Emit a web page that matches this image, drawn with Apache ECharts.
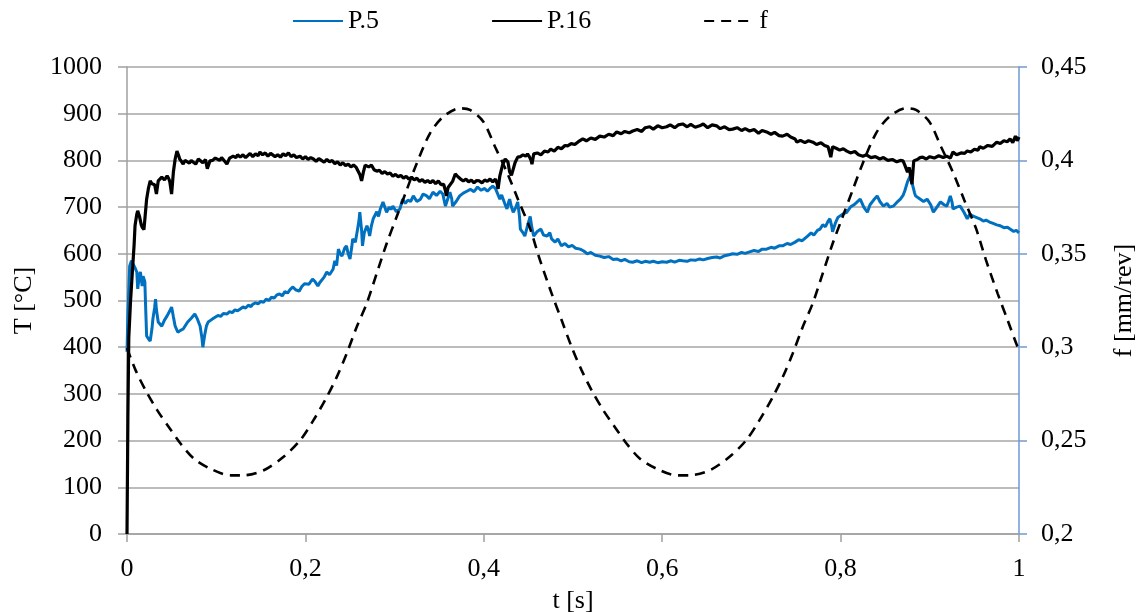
<!DOCTYPE html>
<html>
<head>
<meta charset="utf-8">
<script src="https://cdn.jsdelivr.net/npm/echarts@6/dist/echarts.min.js"></script>
<style>
html,body{margin:0;padding:0;background:#fff;overflow:hidden;}
#chart{width:1137px;height:612px;}
</style>
</head>
<body>
<div id="chart"></div>
<script>
// ---- data ----
const xTicks = [0, 0.2, 0.4, 0.6, 0.8, 1];
const seriesNames = ['P.5', 'P.16', 'f'];

const tP5 = [0,0.001,0.003,0.005,0.007,0.009,0.011,0.012,0.014,0.015,0.017,0.018,0.019,0.020,0.021,0.022,0.024,0.026,0.028,0.029,0.031,0.032,0.033,0.035,0.037,0.039,0.042,0.045,0.048,0.050,0.052,0.054,0.057,0.060,0.063,0.066,0.068,0.072,0.076,0.079,0.082,0.084,0.085,0.087,0.089,0.091,0.094,0.097,0.099,0.102,0.105,0.108,0.112,0.115,0.118,0.121,0.124,0.127,0.130,0.133,0.136,0.139,0.141,0.144,0.147,0.150,0.153,0.156,0.159,0.162,0.165,0.168,0.171,0.174,0.177,0.180,0.183,0.186,0.189,0.193,0.196,0.199,0.201,0.204,0.208,0.211,0.214,0.216,0.218,0.221,0.224,0.227,0.231,0.233,0.235,0.237,0.239,0.241,0.244,0.246,0.248,0.250,0.252,0.253,0.256,0.258,0.260,0.261,0.263,0.264,0.266,0.269,0.271,0.272,0.274,0.276,0.280,0.282,0.284,0.287,0.289,0.291,0.294,0.296,0.298,0.302,0.306,0.309,0.312,0.315,0.318,0.321,0.325,0.329,0.332,0.336,0.339,0.343,0.347,0.351,0.354,0.357,0.360,0.362,0.364,0.365,0.369,0.373,0.377,0.381,0.385,0.389,0.393,0.397,0.401,0.404,0.407,0.410,0.413,0.415,0.418,0.420,0.422,0.424,0.426,0.428,0.429,0.431,0.433,0.436,0.438,0.440,0.441,0.444,0.446,0.449,0.452,0.454,0.456,0.460,0.464,0.467,0.471,0.474,0.476,0.480,0.483,0.487,0.491,0.495,0.499,0.503,0.508,0.512,0.516,0.520,0.525,0.530,0.535,0.540,0.545,0.549,0.554,0.558,0.563,0.567,0.572,0.577,0.581,0.586,0.590,0.595,0.600,0.605,0.610,0.614,0.619,0.623,0.628,0.632,0.637,0.642,0.646,0.651,0.656,0.661,0.665,0.670,0.675,0.679,0.684,0.689,0.693,0.698,0.703,0.708,0.712,0.717,0.722,0.726,0.731,0.735,0.740,0.744,0.749,0.753,0.757,0.763,0.767,0.770,0.774,0.777,0.780,0.783,0.786,0.788,0.790,0.791,0.794,0.797,0.799,0.803,0.807,0.811,0.815,0.818,0.822,0.826,0.830,0.833,0.837,0.841,0.844,0.848,0.852,0.855,0.859,0.863,0.867,0.870,0.872,0.875,0.878,0.881,0.883,0.884,0.887,0.889,0.893,0.897,0.901,0.904,0.908,0.912,0.916,0.919,0.921,0.923,0.925,0.926,0.930,0.934,0.938,0.942,0.945,0.948,0.952,0.956,0.960,0.963,0.967,0.971,0.975,0.979,0.983,0.987,0.990,0.994,0.997,1.0];
const vP5 = [390,470,574,585,589,570,561,525,555,561,531,552,548,540,480,424,418,413,440,460,485,503,480,454,450,445,458,467,478,486,465,445,432,436,439,448,454,462,471,460,445,420,400,425,445,454,458,462,465,468,466,472,471,476,474,480,478,482,486,484,490,487,492,495,493,498,496,503,500,507,505,512,514,510,519,516,524,529,523,520,530,536,540,535,546,540,531,538,535,550,561,555,567,585,575,610,600,595,612,617,600,589,615,632,625,647,670,689,650,617,645,660,648,638,660,675,690,680,696,711,700,689,700,695,702,690,696,717,708,715,712,724,712,717,728,724,718,732,725,734,728,702,720,732,718,702,712,724,730,734,738,733,743,736,740,734,740,745,740,739,717,726,724,705,696,712,717,700,689,700,711,680,653,645,638,660,680,655,638,648,653,640,638,645,632,625,632,617,622,615,618,612,610,606,600,603,597,595,592,594,588,589,585,588,583,582,585,581,584,582,584,581,583,582,585,582,586,585,584,587,586,589,587,590,592,593,591,596,598,600,599,603,601,604,607,605,610,610,614,612,617,617,622,620,625,630,628,638,645,640,650,653,662,658,670,675,660,647,665,678,681,686,689,700,705,710,717,700,689,705,715,724,712,702,708,700,702,710,717,725,735,754,767,745,730,724,720,717,712,717,705,689,700,711,705,702,712,724,710,696,700,702,690,675,685,681,678,675,670,672,668,665,662,660,656,657,653,648,650,645];

const tP16 = [0,0.001,0.002,0.004,0.006,0.008,0.009,0.011,0.012,0.014,0.016,0.017,0.019,0.020,0.022,0.024,0.026,0.028,0.029,0.031,0.033,0.035,0.037,0.039,0.042,0.045,0.047,0.048,0.050,0.052,0.054,0.056,0.058,0.059,0.061,0.063,0.065,0.067,0.070,0.072,0.074,0.077,0.080,0.082,0.085,0.088,0.090,0.093,0.096,0.099,0.101,0.104,0.106,0.108,0.110,0.112,0.115,0.117,0.119,0.122,0.124,0.127,0.130,0.133,0.135,0.138,0.141,0.144,0.147,0.149,0.152,0.155,0.158,0.161,0.163,0.166,0.169,0.172,0.175,0.178,0.181,0.184,0.187,0.190,0.194,0.197,0.200,0.203,0.206,0.209,0.212,0.215,0.218,0.221,0.224,0.227,0.230,0.233,0.236,0.239,0.242,0.245,0.248,0.251,0.254,0.257,0.259,0.261,0.263,0.265,0.267,0.269,0.271,0.274,0.277,0.280,0.283,0.286,0.289,0.292,0.295,0.298,0.301,0.304,0.307,0.310,0.313,0.316,0.319,0.322,0.325,0.328,0.331,0.334,0.337,0.340,0.343,0.346,0.349,0.352,0.355,0.357,0.358,0.360,0.362,0.365,0.368,0.371,0.374,0.377,0.380,0.383,0.386,0.389,0.392,0.395,0.398,0.401,0.404,0.407,0.410,0.413,0.415,0.416,0.418,0.421,0.424,0.426,0.427,0.429,0.431,0.433,0.435,0.438,0.441,0.444,0.447,0.449,0.451,0.453,0.454,0.456,0.460,0.464,0.468,0.472,0.475,0.479,0.483,0.487,0.491,0.494,0.498,0.502,0.506,0.511,0.515,0.520,0.525,0.530,0.535,0.540,0.545,0.549,0.554,0.558,0.563,0.567,0.572,0.577,0.581,0.586,0.590,0.595,0.600,0.605,0.609,0.614,0.618,0.623,0.628,0.632,0.637,0.642,0.646,0.651,0.656,0.661,0.665,0.670,0.675,0.679,0.684,0.689,0.693,0.698,0.703,0.708,0.712,0.717,0.722,0.726,0.731,0.735,0.740,0.744,0.746,0.749,0.751,0.755,0.760,0.764,0.769,0.773,0.778,0.782,0.786,0.788,0.789,0.791,0.795,0.799,0.803,0.807,0.811,0.816,0.820,0.825,0.829,0.834,0.839,0.844,0.848,0.853,0.858,0.863,0.867,0.870,0.872,0.875,0.877,0.880,0.882,0.886,0.889,0.892,0.896,0.900,0.905,0.910,0.915,0.919,0.923,0.926,0.930,0.935,0.939,0.942,0.946,0.950,0.954,0.956,0.960,0.965,0.970,0.975,0.979,0.983,0.987,0.990,0.993,0.996,0.998,1.0];
const vP16 = [0,250,420,500,561,620,660,685,692,680,662,657,652,649,717,740,756,750,754,748,728,756,760,764,758,767,760,754,728,775,803,820,810,803,798,792,800,799,794,800,797,792,803,800,795,802,782,799,800,805,807,800,806,803,797,792,805,803,809,806,812,807,812,806,809,815,808,814,810,818,812,816,809,815,814,808,812,807,814,810,816,808,812,806,809,803,808,802,806,803,798,804,800,796,802,797,800,793,797,790,795,789,792,786,790,785,786,770,756,775,790,792,786,790,780,777,779,772,776,771,773,766,770,765,768,762,766,760,764,758,762,755,759,753,757,752,757,750,756,748,749,735,724,742,745,755,771,765,760,756,760,754,758,752,757,756,752,758,755,760,754,760,750,739,767,790,803,800,797,775,768,772,795,807,808,812,809,814,808,800,792,814,816,812,820,818,824,820,828,825,832,831,836,834,840,846,842,848,845,852,850,856,853,861,857,862,859,863,866,862,870,872,867,874,870,872,876,870,876,878,872,877,871,874,878,870,876,874,868,872,866,867,870,864,868,863,866,858,864,861,856,860,853,852,856,850,852,846,839,843,838,842,839,834,838,832,829,826,807,829,826,822,825,820,816,819,812,809,812,806,808,803,806,800,802,797,800,799,790,775,785,749,799,802,806,807,803,808,805,810,806,809,805,818,812,816,815,820,818,824,822,829,826,832,830,839,836,842,840,846,838,852,842,850];

const tF = [0,0.0097,0.0209,0.034,0.047,0.0602,0.0751,0.0938,0.1162,0.1304,0.1528,0.1752,0.1940,0.2089,0.2239,0.2351,0.2463,0.2575,0.2687,0.2799,0.2911,0.3023,0.3135,0.3248,0.3397,0.3546,0.3733,0.3845,0.3995,0.4126,0.4257,0.4387,0.4518,0.463,0.4761,0.4873,0.4985,0.5097,0.5209,0.534,0.547,0.5602,0.5751,0.5938,0.6162,0.6304,0.6528,0.6752,0.6940,0.7089,0.7239,0.7351,0.7463,0.7575,0.7687,0.7799,0.7911,0.8023,0.8135,0.8248,0.8397,0.8546,0.8733,0.8845,0.8995,0.9126,0.9257,0.9387,0.9518,0.963,0.9761,0.9873,0.9985,1.0];
const vF = [0.2995,0.2876,0.2769,0.2662,0.2572,0.2483,0.2403,0.2349,0.2314,0.2314,0.2340,0.2412,0.2501,0.2608,0.2733,0.2840,0.2966,0.3108,0.3234,0.3394,0.3555,0.3698,0.3841,0.3984,0.4145,0.4234,0.4279,0.4270,0.4207,0.4073,0.3939,0.3787,0.3636,0.3466,0.3287,0.3144,0.3001,0.2876,0.2769,0.2662,0.2572,0.2483,0.2403,0.2349,0.2314,0.2314,0.2340,0.2412,0.2501,0.2608,0.2733,0.2840,0.2966,0.3108,0.3234,0.3394,0.3555,0.3698,0.3841,0.3984,0.4145,0.4234,0.4279,0.4270,0.4207,0.4073,0.3939,0.3787,0.3636,0.3466,0.3287,0.3144,0.3001,0.2995];

// ---- chart ----
const FONT = '"Liberation Serif","Times New Roman",serif';
const zip = (a, b) => a.map((x, i) => [x, b[i]]);
const comma = (v, d) => String(+v.toFixed(d)).replace('.', ',');

const chart = echarts.init(document.getElementById('chart'), null, {renderer: 'canvas', width: 1137, height: 612});
chart.setOption({
  animation: false,
  backgroundColor: '#fff',
  textStyle: {fontFamily: FONT, color: '#000'},
  grid: {left: 127, right: 118, top: 67, bottom: 78, containLabel: false, outerBoundsMode: 'none'},
  legend: {
    data: seriesNames,
    left: 287, top: 3,
    itemWidth: 50, itemHeight: 14, itemGap: 112,
    itemStyle: {opacity: 0},
    textStyle: {fontFamily: FONT, fontSize: 26, color: '#000'}
  },
  xAxis: {
    type: 'value', min: 0, max: 1, interval: 0.2,
    name: 't [s]', nameLocation: 'middle', nameGap: 54,
    nameTextStyle: {fontFamily: FONT, fontSize: 26, color: '#000'},
    axisLine: {show: true, onZero: false, lineStyle: {color: '#a0a0a0', width: 1.5}},
    axisTick: {show: true, length: 8, lineStyle: {color: '#a0a0a0', width: 1.5}},
    axisLabel: {fontFamily: FONT, fontSize: 26, color: '#000', margin: 22, formatter: v => comma(v, 1)},
    splitLine: {show: false}
  },
  yAxis: [{
    type: 'value', min: 0, max: 1000, interval: 100,
    name: 'T [°C]', nameLocation: 'middle', nameGap: 90, nameRotate: 90,
    nameTextStyle: {fontFamily: FONT, fontSize: 26, color: '#000'},
    axisLine: {show: true, lineStyle: {color: '#a0a0a0', width: 1.5}},
    axisTick: {show: true, length: 9, lineStyle: {color: '#a0a0a0', width: 1.5}},
    axisLabel: {fontFamily: FONT, fontSize: 26, color: '#000', margin: 25, formatter: v => String(v)},
    splitLine: {show: true, lineStyle: {color: '#a6a6a6', width: 1.5}}
  }, {
    type: 'value', min: 0.2, max: 0.45, interval: 0.05, position: 'right',
    name: 'f [mm/rev]', nameLocation: 'middle', nameGap: 92, nameRotate: 90,
    nameTextStyle: {fontFamily: FONT, fontSize: 26, color: '#000'},
    axisLine: {show: true, lineStyle: {color: '#6e9ad4', width: 1.5}},
    axisTick: {show: true, length: 8, lineStyle: {color: '#6e9ad4', width: 1.5}},
    axisLabel: {fontFamily: FONT, fontSize: 26, color: '#000', margin: 22, formatter: v => comma(v, 2)},
    splitLine: {show: false}
  }],
  series: [{
    name: 'P.5', type: 'line', yAxisIndex: 0, showSymbol: false, symbol: 'none',
    data: zip(tP5, vP5),
    lineStyle: {color: '#0070C0', width: 3}, itemStyle: {color: '#0070C0'}
  }, {
    name: 'P.16', type: 'line', yAxisIndex: 0, showSymbol: false, symbol: 'none',
    data: zip(tP16, vP16),
    lineStyle: {color: '#000', width: 3.2}, itemStyle: {color: '#000'}
  }, {
    name: 'f', type: 'line', yAxisIndex: 1, showSymbol: false, symbol: 'none', smooth: 0.3,
    data: zip(tF, vF),
    lineStyle: {color: '#000', width: 2.6, type: [10, 7]}, itemStyle: {color: '#000'}
  }]
});
</script>
</body>
</html>
